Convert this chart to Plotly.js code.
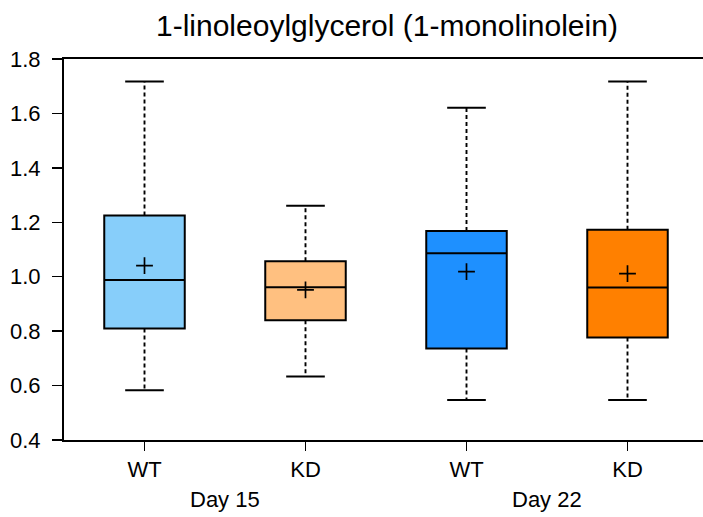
<!DOCTYPE html>
<html>
<head>
<meta charset="utf-8">
<script src="https://cdn.plot.ly/plotly-3.0.1.min.js"></script>
<style>
html, body { margin: 0; padding: 0; overflow: hidden; background: #fff; }
#chart { width: 710px; height: 517px; }
</style>
</head>
<body>
<div id="chart"></div>
<script>
// ---- data ----
const categories = ['WT', 'KD', 'WT', 'KD'];
const dayLabels = ['Day 15', 'Day 22'];
const q1Values = [0.810, 0.840, 0.736, 0.777];
const medianValues = [0.988, 0.961, 1.086, 0.960];
const q3Values = [1.225, 1.057, 1.168, 1.173];
const lowerWhisker = [0.583, 0.633, 0.547, 0.547];
const upperWhisker = [1.717, 1.261, 1.621, 1.717];
const meanValues = [1.041, 0.952, 1.019, 1.011];
const boxColors = ['#87CEFA', '#FFC080', '#1E90FF', '#FF8000'];

const FONT = '"Liberation Sans", Arial, Helvetica, sans-serif';
const pos = categories.map((c, i) => i);
const capHalf = 0.12;

const traces = [];

// dashed whisker stems
const stemX = [], stemY = [];
pos.forEach((p, i) => {
  stemX.push(p, p, null, p, p, null);
  stemY.push(q3Values[i], upperWhisker[i], null, q1Values[i], lowerWhisker[i], null);
});
traces.push({
  type: 'scatter', mode: 'lines', x: stemX, y: stemY,
  line: { color: '#000', width: 1.9, dash: '4px,3px' },
  hoverinfo: 'skip', showlegend: false, connectgaps: false
});

// whisker caps
const capX = [], capY = [];
pos.forEach((p, i) => {
  capX.push(p - capHalf, p + capHalf, null, p - capHalf, p + capHalf, null);
  capY.push(upperWhisker[i], upperWhisker[i], null, lowerWhisker[i], lowerWhisker[i], null);
});
traces.push({
  type: 'scatter', mode: 'lines', x: capX, y: capY,
  line: { color: '#000', width: 2 },
  hoverinfo: 'skip', showlegend: false, connectgaps: false
});

// boxes
pos.forEach((p, i) => {
  traces.push({
    type: 'box', x: [p],
    q1: [q1Values[i]], median: [medianValues[i]], q3: [q3Values[i]],
    lowerfence: [q1Values[i]], upperfence: [q3Values[i]],
    width: 0.5, whiskerwidth: 0,
    fillcolor: boxColors[i],
    line: { color: '#000', width: 2 },
    showlegend: false, hoverinfo: 'skip'
  });
});

// means
traces.push({
  type: 'scatter', mode: 'markers', x: pos, y: meanValues,
  marker: { symbol: 'cross-thin-open', size: 12, color: '#000', line: { color: '#000', width: 1.7 } },
  showlegend: false, hoverinfo: 'skip'
});

const layout = {
  width: 710, height: 517,
  margin: { l: 64, r: 2, t: 59, b: 77 },
  paper_bgcolor: '#fff', plot_bgcolor: '#fff',
  font: { family: FONT, color: '#000', size: 22 },
  title: {
    text: '1-linoleoylglycerol (1-monolinolein)',
    font: { family: FONT, size: 30, color: '#000' },
    x: 0.545, xanchor: 'center', y: 0.95, yanchor: 'middle'
  },
  boxmode: 'overlay',
  showlegend: false,
  xaxis: {
    range: [-0.5, 3.5],
    tickmode: 'array', tickvals: pos, ticktext: categories,
    ticks: 'outside', ticklen: 9, tickwidth: 1.5, tickcolor: '#000',
    showgrid: false, zeroline: false,
    showline: true, linecolor: '#000', linewidth: 2, mirror: true,
    tickfont: { family: FONT, size: 22, color: '#000' },
    fixedrange: true
  },
  yaxis: {
    range: [0.4, 1.8], dtick: 0.2, tick0: 0.4, tickformat: '.1f',
    ticks: 'outside', ticklen: 10, tickwidth: 1.5, tickcolor: '#000',
    ticklabelstandoff: 7,
    showgrid: false, zeroline: false,
    showline: true, linecolor: '#000', linewidth: 2,
    tickfont: { family: FONT, size: 22, color: '#000' },
    fixedrange: true
  },
  annotations: dayLabels.map((d, k) => ({
    text: d, xref: 'x', yref: 'paper',
    x: (pos[2 * k] + pos[2 * k + 1]) / 2, y: -0.157,
    xanchor: 'center', yanchor: 'middle', showarrow: false,
    font: { family: FONT, size: 22, color: '#000' }
  }))
};

Plotly.newPlot('chart', traces, layout, { staticPlot: true, displayModeBar: false });
</script>
</body>
</html>
